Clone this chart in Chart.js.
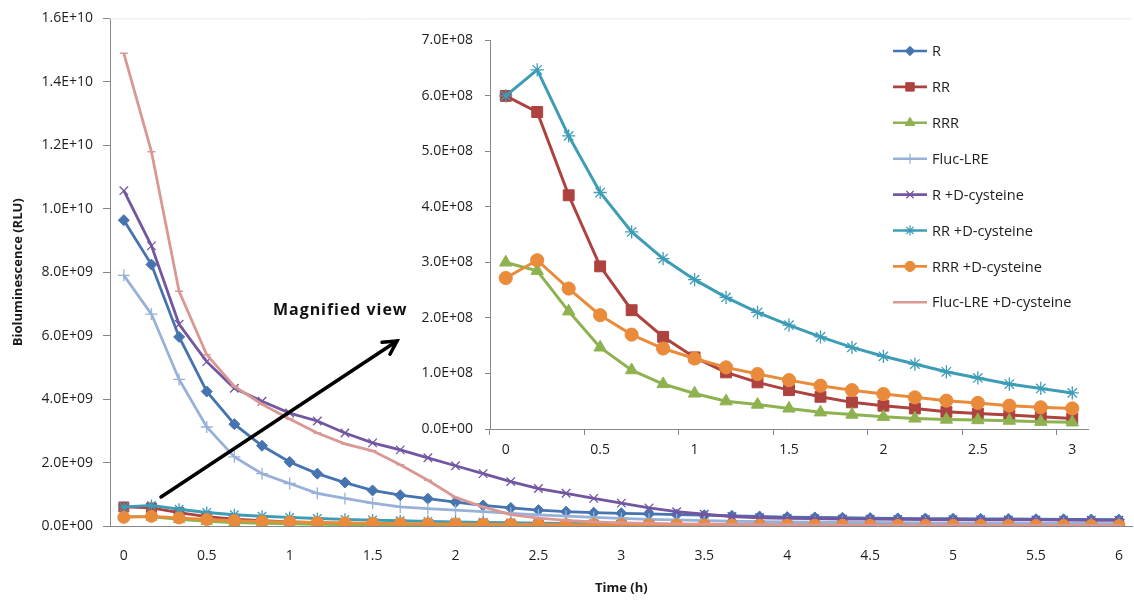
<!DOCTYPE html>
<html><head><meta charset="utf-8">
<script src="https://cdn.jsdelivr.net/npm/chart.js@4"></script>
<style>
html,body{margin:0;padding:0;background:#fff;}
#wrap{position:relative;width:1134px;height:602px;overflow:hidden;background:#fff;}
#main{position:absolute;left:0;top:0;width:1145px;height:602px;}
#inset{position:absolute;left:420px;top:20px;width:714px;height:450px;}
</style></head><body>
<div id="wrap"><canvas id="main" width="1145" height="602"></canvas><canvas id="inset" width="714" height="450"></canvas></div>
<script>
// ---- categories: sampling times in minutes ----
const minutes = [0,10,20,30,40,50,60,70,80,90,100,110,120,130,140,150,160,170,180,190,200,210,220,230,240,250,260,270,280,290,300,310,320,330,340,350,360];
const insetCount = 19; // 0 .. 3 h shown in the magnified view

// ---- series values (RLU) ----
const R = [9.64e9,8.24e9,5.96e9,4.24e9,3.21e9,2.53e9,2.02e9,1.65e9,1.37e9,1.12e9,0.97e9,0.86e9,0.75e9,0.65e9,0.57e9,0.50e9,0.45e9,0.42e9,0.40e9,0.38e9,0.36e9,0.34e9,0.32e9,0.30e9,0.28e9,0.27e9,0.26e9,0.25e9,0.24e9,0.235e9,0.23e9,0.225e9,0.22e9,0.215e9,0.21e9,0.205e9,0.20e9];
const RR = [6.00e8,5.71e8,4.21e8,2.93e8,2.14e8,1.66e8,1.29e8,1.02e8,0.84e8,0.70e8,0.58e8,0.48e8,0.42e8,0.37e8,0.31e8,0.28e8,0.25e8,0.22e8,0.19e8,0.17e8,0.16e8,0.14e8,0.13e8,0.12e8,0.11e8,0.10e8,0.09e8,0.085e8,0.08e8,0.075e8,0.07e8,0.065e8,0.06e8,0.057e8,0.054e8,0.051e8,0.048e8];
const RRR = [3.00e8,2.85e8,2.12e8,1.47e8,1.06e8,0.81e8,0.64e8,0.50e8,0.44e8,0.37e8,0.30e8,0.26e8,0.22e8,0.19e8,0.17e8,0.16e8,0.15e8,0.13e8,0.12e8,0.11e8,0.10e8,0.095e8,0.09e8,0.085e8,0.08e8,0.075e8,0.07e8,0.065e8,0.06e8,0.057e8,0.054e8,0.05e8,0.048e8,0.045e8,0.043e8,0.04e8,0.038e8];
const FlucLRE = [7.90e9,6.68e9,4.62e9,3.12e9,2.18e9,1.65e9,1.34e9,1.03e9,0.87e9,0.72e9,0.60e9,0.55e9,0.50e9,0.45e9,0.40e9,0.35e9,0.31e9,0.27e9,0.24e9,0.21e9,0.19e9,0.17e9,0.15e9,0.14e9,0.13e9,0.12e9,0.115e9,0.11e9,0.105e9,0.10e9,0.095e9,0.09e9,0.088e9,0.085e9,0.083e9,0.08e9,0.078e9];
const R_Dcys = [10.57e9,8.83e9,6.36e9,5.18e9,4.34e9,3.93e9,3.56e9,3.31e9,2.93e9,2.62e9,2.40e9,2.15e9,1.90e9,1.65e9,1.40e9,1.18e9,1.03e9,0.87e9,0.72e9,0.57e9,0.45e9,0.37e9,0.30e9,0.26e9,0.24e9,0.23e9,0.22e9,0.215e9,0.21e9,0.205e9,0.20e9,0.195e9,0.19e9,0.19e9,0.185e9,0.18e9,0.18e9];
const RR_Dcys = [6.00e8,6.47e8,5.28e8,4.26e8,3.55e8,3.07e8,2.69e8,2.37e8,2.10e8,1.87e8,1.66e8,1.47e8,1.31e8,1.17e8,1.03e8,0.92e8,0.81e8,0.73e8,0.65e8,0.58e8,0.52e8,0.47e8,0.42e8,0.38e8,0.34e8,0.31e8,0.28e8,0.25e8,0.23e8,0.21e8,0.19e8,0.17e8,0.16e8,0.15e8,0.14e8,0.13e8,0.12e8];
const RRR_Dcys = [2.72e8,3.04e8,2.53e8,2.05e8,1.70e8,1.45e8,1.27e8,1.11e8,0.99e8,0.88e8,0.78e8,0.70e8,0.63e8,0.57e8,0.51e8,0.47e8,0.42e8,0.39e8,0.37e8,0.34e8,0.32e8,0.30e8,0.28e8,0.26e8,0.25e8,0.23e8,0.22e8,0.21e8,0.20e8,0.19e8,0.18e8,0.17e8,0.16e8,0.15e8,0.145e8,0.14e8,0.135e8];
const FlucLRE_Dcys = [14.9e9,11.8e9,7.4e9,5.4e9,4.4e9,3.84e9,3.37e9,2.93e9,2.59e9,2.37e9,1.93e9,1.44e9,0.90e9,0.60e9,0.36e9,0.25e9,0.18e9,0.13e9,0.10e9,0.08e9,0.07e9,0.06e9,0.05e9,0.045e9,0.04e9,0.035e9,0.03e9,0.03e9,0.028e9,0.025e9,0.025e9,0.022e9,0.02e9,0.02e9,0.018e9,0.018e9,0.015e9];

// ---- series names ----
const seriesNames = ['R','RR','RRR','Fluc-LRE','R +D-cysteine','RR +D-cysteine','RRR +D-cysteine','Fluc-LRE +D-cysteine'];
const seriesData = [R, RR, RRR, FlucLRE, R_Dcys, RR_Dcys, RRR_Dcys, FlucLRE_Dcys];

// ---- axis ticks ----
const mainYTicks = {min: 0, max: 1.6e10, step: 2e9};
const insetYTicks = {min: 0, max: 7e8, step: 1e8};
const labelEvery = 30; // minutes between x labels

// ---- styles ----
const seriesStyle = [
  {color:'#4674B0', ps:'rectRot', r:5.5, bw:1},
  {color:'#AE423F', ps:'rect', r:7, bw:1},
  {color:'#8DB24F', ps:'triangle', r:6.5, bw:1},
  {color:'#97B1D8', ps:'cross', r:6, bw:1.3},
  {color:'#7356A0', ps:'crossRot', r:6, bw:1.3},
  {color:'#3E9DB6', ps:'star', r:6, bw:1.3},
  {color:'#EA8B3C', ps:'circle', r:6, bw:1},
  {color:'#D99894', ps:'line', r:4, bw:1.5}
];

const FONT = '"Open Sans", Lato, "Liberation Sans", sans-serif';
Chart.defaults.font.family = FONT;
Chart.defaults.color = '#1e1e1e';
const AXIS = '#868686';
const TICKSIZE = 14;

function fmtExp(v){
  let s = Number(v).toExponential(1);
  let [m, e] = s.split('e');
  let sign = e[0] === '-' ? '-' : '+';
  let digits = e.replace(/^[+-]/,'').padStart(2,'0');
  return m + 'E' + sign + digits;
}

function makeDatasets(indices, count){
  return indices.map(i => {
    const st = seriesStyle[i];
    return {
      label: seriesNames[i],
      data: count ? seriesData[i].slice(0, count) : seriesData[i],
      borderColor: st.color,
      backgroundColor: st.color,
      pointBackgroundColor: st.color,
      pointBorderColor: st.color,
      pointStyle: st.ps,
      pointRadius: st.r,
      pointHoverRadius: st.r,
      pointBorderWidth: st.bw,
      borderWidth: 2.8,
      tension: 0,
      order: 7 - i
    };
  });
}

function drawMarker(ctx, st, x, y, scale){
  const opts = {pointStyle: st.ps, rotation: 0, radius: st.r*scale, borderWidth: st.bw};
  ctx.save();
  ctx.fillStyle = st.color; ctx.strokeStyle = st.color; ctx.lineWidth = st.bw;
  if (Chart.helpers && Chart.helpers.drawPoint) Chart.helpers.drawPoint(ctx, opts, x, y);
  ctx.restore();
}

const overlayPlugin = {
  id: 'overlay',
  afterDraw(chart){
    const ctx = chart.ctx;
    const ca = chart.chartArea;
    ctx.save();
    // faint plot border at top
    ctx.strokeStyle = '#ECECE4'; ctx.lineWidth = 1;
    ctx.beginPath(); ctx.moveTo(ca.left, ca.top + 0.5); ctx.lineTo(ca.right, ca.top + 0.5); ctx.stroke();
    // arrow
    const x0 = 161, y0 = 497, x1 = 397, y1 = 341;
    ctx.strokeStyle = '#000'; ctx.lineWidth = 3.5; ctx.lineCap = 'round';
    ctx.beginPath(); ctx.moveTo(x0, y0); ctx.lineTo(x1, y1); ctx.stroke();
    const ang = Math.atan2(y1 - y0, x1 - x0);
    const hl = 15, ha = 0.5;
    ctx.beginPath();
    ctx.moveTo(x1 - hl*Math.cos(ang - ha), y1 - hl*Math.sin(ang - ha));
    ctx.lineTo(x1, y1);
    ctx.lineTo(x1 - hl*Math.cos(ang + ha), y1 - hl*Math.sin(ang + ha));
    ctx.stroke();
    // label
    ctx.fillStyle = '#111';
    ctx.font = 'bold 16px ' + FONT;
    try { ctx.letterSpacing = '0.95px'; } catch(e) {}
    ctx.textAlign = 'left'; ctx.textBaseline = 'middle';
    ctx.fillText('Magnified view', 273, 310);
    try { ctx.letterSpacing = '0px'; } catch(e) {}
    // legend
    ctx.font = '14.6px ' + FONT;
    seriesNames.forEach((name, i) => {
      const st = seriesStyle[i];
      const y = 51 + i * 35.9;
      ctx.strokeStyle = st.color; ctx.lineWidth = 2.6; ctx.lineCap = 'butt';
      ctx.beginPath(); ctx.moveTo(893, y); ctx.lineTo(927, y); ctx.stroke();
      if (st.ps !== 'line') drawMarker(ctx, st, 910, y, 0.85);
      ctx.fillStyle = '#1e1e1e';
      ctx.fillText(name, 932, y + 1);
    });
    ctx.restore();
  }
};

new Chart(document.getElementById('main'), {
  type: 'line',
  data: { labels: minutes.map(String), datasets: makeDatasets([0,1,2,3,4,5,6,7]) },
  options: {
    responsive: false, animation: false,
    layout: { padding: { top: 13, right: 0, left: 0, bottom: 0 } },
    plugins: { legend: { display: false }, tooltip: { enabled: false } },
    scales: {
      x: {
        type: 'category', offset: true,
        grid: { display: true, drawOnChartArea: false, drawTicks: false },
        border: { color: AXIS, width: 1 },
        ticks: { autoSkip: false, maxRotation: 0, padding: 22, font: { size: TICKSIZE },
          callback: (v, i) => minutes[i] % labelEvery === 0 ? String(minutes[i] / 60) : '' },
        title: { display: true, text: 'Time (h)', font: { size: 13, weight: 'bold' }, color: '#1a1a1a', padding: { top: 0, bottom: 6 } },
        afterFit: s => { s.height = 76; }
      },
      y: {
        min: mainYTicks.min, max: mainYTicks.max,
        ticks: { stepSize: mainYTicks.step, padding: 10, font: { size: TICKSIZE }, callback: v => fmtExp(v) },
        grid: { drawOnChartArea: false, drawTicks: true, tickLength: 7, color: AXIS },
        border: { color: AXIS, width: 1 },
        title: { display: true, text: 'Bioluminescence (RLU)', font: { size: 13, weight: 'bold' }, color: '#1a1a1a', padding: { top: 10, bottom: 0 } },
        afterFit: s => { s.width = 110; }
      }
    }
  },
  plugins: [overlayPlugin]
});

new Chart(document.getElementById('inset'), {
  type: 'line',
  data: { labels: minutes.slice(0, insetCount).map(String), datasets: makeDatasets([1,2,5,6], insetCount).map(d => Object.assign(d, {borderWidth: 3, pointRadius: d.pointRadius * 1.1})) },
  options: {
    responsive: false, animation: false,
    layout: { padding: { top: 13, right: 46, left: 0, bottom: 0 } },
    plugins: { legend: { display: false }, tooltip: { enabled: false } },
    scales: {
      x: {
        type: 'category', offset: true,
        grid: { display: true, drawOnChartArea: false, drawTicks: true, tickLength: 6, offset: true,
          tickColor: c => (c.index % 3 === 0 ? AXIS : 'rgba(0,0,0,0)') },
        border: { color: AXIS, width: 1 },
        ticks: { autoSkip: false, maxRotation: 0, padding: 7, font: { size: TICKSIZE },
          callback: (v, i) => minutes[i] % labelEvery === 0 ? String(minutes[i] / 60) : '' },
        afterFit: s => { s.height = 41; }
      },
      y: {
        min: insetYTicks.min, max: insetYTicks.max,
        ticks: { stepSize: insetYTicks.step, padding: 12, font: { size: TICKSIZE }, callback: v => fmtExp(v) },
        grid: { drawOnChartArea: false, drawTicks: true, tickLength: 5, color: AXIS },
        border: { color: AXIS, width: 1 },
        afterFit: s => { s.width = 70; }
      }
    }
  }
});
</script>
</body></html>
